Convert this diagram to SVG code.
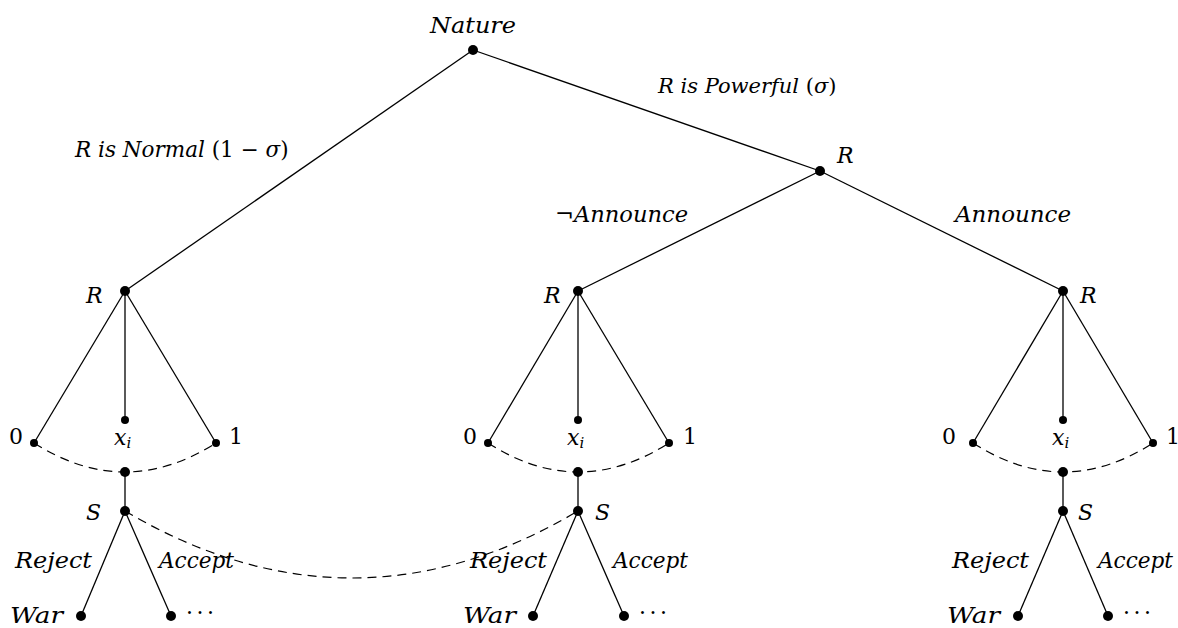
<svg xmlns="http://www.w3.org/2000/svg" width="1178" height="628" viewBox="0 0 1178 628">
<style>
.e{stroke:#000;stroke-width:1.3;fill:none}
.d{stroke:#000;stroke-width:1.2;fill:none;stroke-dasharray:9 6}
.n{fill:#000}
.t{font-family:'DejaVu Serif','Liberation Serif',serif;font-size:22px;fill:#000}
.b{font-size:21px}
.c{font-size:21.5px}
.m{font-style:italic}
</style>
<rect width="1178" height="628" fill="#fff"/>
<g id="connectors">
<line class="e" x1="473" y1="50" x2="125" y2="291"/>
<line class="e" x1="473" y1="50" x2="820" y2="171"/>
<line class="e" x1="820" y1="171" x2="578" y2="291"/>
<line class="e" x1="820" y1="171" x2="1063" y2="291"/>
<line class="e" x1="125" y1="291" x2="34" y2="443"/>
<line class="e" x1="125" y1="291" x2="125" y2="420"/>
<line class="e" x1="125" y1="291" x2="216" y2="443"/>
<line class="e" x1="578" y1="291" x2="488" y2="443"/>
<line class="e" x1="578" y1="291" x2="578" y2="420"/>
<line class="e" x1="578" y1="291" x2="669" y2="443"/>
<line class="e" x1="1063" y1="291" x2="973" y2="443"/>
<line class="e" x1="1063" y1="291" x2="1063" y2="420"/>
<line class="e" x1="1063" y1="291" x2="1153" y2="443"/>
<path class="d" d="M34 443 Q125 501 216 443"/>
<path class="d" d="M488 443 Q578 501 669 443"/>
<path class="d" d="M973 443 Q1063 501 1153 443"/>
<path class="d" d="M125 511 Q352 645 578 511"/>
<line class="e" x1="125" y1="472" x2="125" y2="511"/>
<line class="e" x1="578" y1="472" x2="578" y2="511"/>
<line class="e" x1="1063" y1="472" x2="1063" y2="511"/>
<line class="e" x1="125" y1="511" x2="81" y2="616"/>
<line class="e" x1="125" y1="511" x2="171" y2="616"/>
<line class="e" x1="578" y1="511" x2="533" y2="616"/>
<line class="e" x1="578" y1="511" x2="624" y2="616"/>
<line class="e" x1="1063" y1="511" x2="1018" y2="616"/>
<line class="e" x1="1063" y1="511" x2="1108" y2="616"/>
</g>
<g id="labels">
<text class="t b" x="658" y="93"><tspan class="m">R is Powerful </tspan>(<tspan class="m">σ</tspan>)</text>
<text class="t c" x="75" y="157"><tspan class="m">R is Normal </tspan>(1 − <tspan class="m">σ</tspan>)</text>
<text class="t m" x="555" y="222" textLength="133" lengthAdjust="spacingAndGlyphs">¬Announce</text>
<text class="t m" x="955" y="222" textLength="116" lengthAdjust="spacingAndGlyphs">Announce</text>
<text class="t m" x="15" y="568" textLength="77" lengthAdjust="spacingAndGlyphs">Reject</text>
<text class="t m" x="159" y="568" textLength="75" lengthAdjust="spacingAndGlyphs">Accept</text>
<text class="t m" x="470" y="568" textLength="77" lengthAdjust="spacingAndGlyphs">Reject</text>
<text class="t m" x="613" y="568" textLength="75" lengthAdjust="spacingAndGlyphs">Accept</text>
<text class="t m" x="952" y="568" textLength="77" lengthAdjust="spacingAndGlyphs">Reject</text>
<text class="t m" x="1098" y="568" textLength="75" lengthAdjust="spacingAndGlyphs">Accept</text>
</g>
<g id="nature"><circle class="n" cx="473" cy="50" r="5"/><text class="t m" x="430" y="33" textLength="86" lengthAdjust="spacingAndGlyphs">Nature</text></g>
<g id="rp"><circle class="n" cx="820" cy="171" r="5"/><text class="t m" x="837" y="163">R</text></g>
<g id="rl"><circle class="n" cx="125" cy="291" r="5"/><text class="t m" x="86" y="303">R</text></g>
<g id="rm"><circle class="n" cx="578" cy="291" r="5"/><text class="t m" x="544" y="303">R</text></g>
<g id="rr"><circle class="n" cx="1063" cy="291" r="5"/><text class="t m" x="1080" y="303">R</text></g>
<g id="l0"><circle class="n" cx="34" cy="443" r="4"/><text class="t" x="9" y="444">0</text></g>
<g id="lx"><circle class="n" cx="125" cy="420" r="4"/><text class="t m" x="114" y="445">x<tspan font-size="15" dy="3">i</tspan></text></g>
<g id="l1"><circle class="n" cx="216" cy="443" r="4"/><text class="t" x="229" y="444">1</text></g>
<g id="m0"><circle class="n" cx="488" cy="443" r="4"/><text class="t" x="463" y="444">0</text></g>
<g id="mx"><circle class="n" cx="578" cy="420" r="4"/><text class="t m" x="567" y="445">x<tspan font-size="15" dy="3">i</tspan></text></g>
<g id="m1"><circle class="n" cx="669" cy="443" r="4"/><text class="t" x="683" y="444">1</text></g>
<g id="r0"><circle class="n" cx="973" cy="443" r="4"/><text class="t" x="942" y="444">0</text></g>
<g id="rx"><circle class="n" cx="1063" cy="420" r="4"/><text class="t m" x="1052" y="445">x<tspan font-size="15" dy="3">i</tspan></text></g>
<g id="r1"><circle class="n" cx="1153" cy="443" r="4"/><text class="t" x="1166" y="444">1</text></g>
<g id="li"><circle class="n" cx="125" cy="472" r="5"/></g>
<g id="mi"><circle class="n" cx="578" cy="472" r="5"/></g>
<g id="ri"><circle class="n" cx="1063" cy="472" r="5"/></g>
<g id="ls"><circle class="n" cx="125" cy="511" r="5"/><text class="t m" x="86" y="520">S</text></g>
<g id="ms"><circle class="n" cx="578" cy="511" r="5"/><text class="t m" x="595" y="520">S</text></g>
<g id="rs"><circle class="n" cx="1063" cy="511" r="5"/><text class="t m" x="1078" y="520">S</text></g>
<g id="lw"><circle class="n" cx="81" cy="616" r="5"/><text class="t m" x="10" y="623" textLength="53" lengthAdjust="spacingAndGlyphs">War</text></g>
<g id="la"><circle class="n" cx="171" cy="616" r="5"/><text class="t" x="186" y="620" textLength="28" lengthAdjust="spacing">···</text></g>
<g id="mw"><circle class="n" cx="533" cy="616" r="5"/><text class="t m" x="463" y="623" textLength="53" lengthAdjust="spacingAndGlyphs">War</text></g>
<g id="ma"><circle class="n" cx="624" cy="616" r="5"/><text class="t" x="639" y="620" textLength="28" lengthAdjust="spacing">···</text></g>
<g id="rw"><circle class="n" cx="1018" cy="616" r="5"/><text class="t m" x="947" y="623" textLength="53" lengthAdjust="spacingAndGlyphs">War</text></g>
<g id="ra"><circle class="n" cx="1108" cy="616" r="5"/><text class="t" x="1123" y="620" textLength="28" lengthAdjust="spacing">···</text></g>
</svg>
